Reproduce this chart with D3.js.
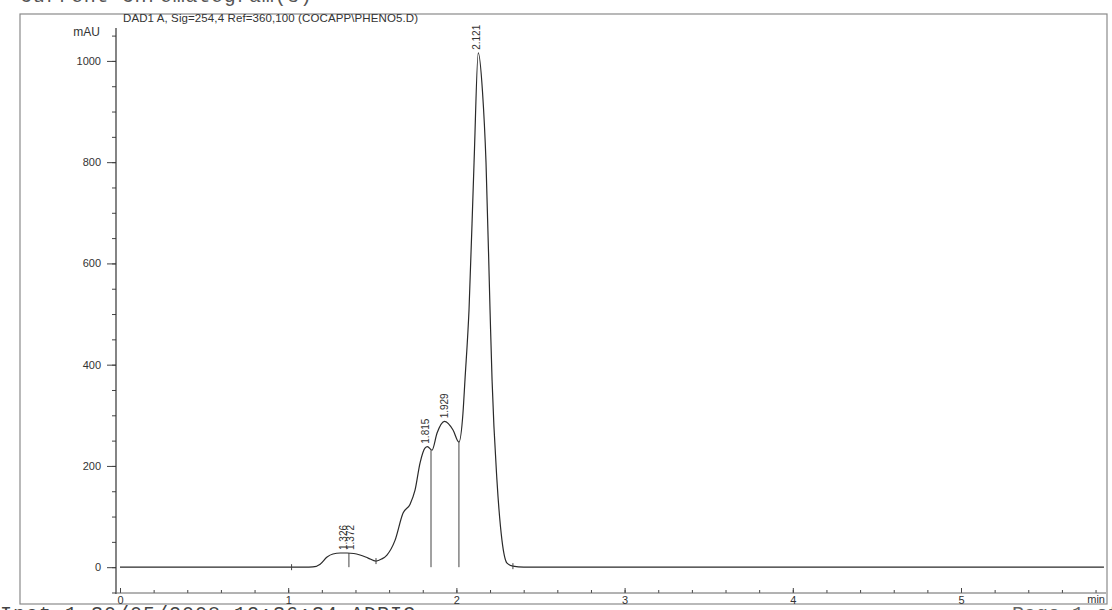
<!DOCTYPE html>
<html>
<head>
<meta charset="utf-8">
<script src="https://cdn.jsdelivr.net/npm/d3@7"></script>
<style>
  body { margin: 0; background: #fff; }
  svg { display: block; }
  .axis text { font-family: "Liberation Sans", Arial, sans-serif; font-size: 11px; fill: #333; }
  .axis path, .axis line { stroke: #444; }
</style>
</head>
<body>
<svg id="chart" width="1112" height="610"></svg>
<script>
// signal (min / mAU)
var times = [0, 1.02, 1.10, 1.147, 1.19, 1.231, 1.266, 1.31, 1.35, 1.39, 1.427, 1.475, 1.522, 1.555,
             1.587, 1.635, 1.683, 1.724, 1.754, 1.784, 1.813, 1.828, 1.855, 1.885, 1.929, 1.98, 2.015,
             2.039, 2.051, 2.075, 2.105, 2.13, 2.155, 2.176, 2.2, 2.212, 2.241, 2.271, 2.301, 2.336, 2.4, 5.85];
var mau = [0, 0, 0, 0.5, 6, 20, 26, 28, 28, 27, 24, 18, 12, 16,
           24, 53, 107, 124, 152, 206, 235, 238, 231, 265, 288, 271, 247,
           304, 370, 508, 800, 1016, 940, 800, 508, 370, 172, 53, 8, 2, 0, 0];

// integration marks
var peakTimes = [1.326, 1.372, 1.815, 1.929, 2.121];
var peakLabels = ["1.326", "1.372", "1.815", "1.929", "2.121"];
var peakHeights = [28, 28, 238, 288, 1016];
var dropTimes = [1.361, 1.849, 2.015];
var dropHeights = [28, 231, 247];
var boundTimes = [1.02, 1.522, 2.336];
var boundHeights = [0, 12, 2];

var xTicks = [0, 1, 2, 3, 4, 5];
var yTicks = [0, 200, 400, 600, 800, 1000];

var svg = d3.select('#chart');

var x = d3.scaleLinear().domain([0, 5.85]).range([120, 120 + 5.85 * 168.2]);
var y = d3.scaleLinear().domain([-51, 1065]).range([593, 28]);

// page frame
svg.append('rect').attr('x', 20).attr('y', 14).attr('width', 1087).attr('height', 590)
    .attr('fill', 'none').attr('stroke', '#8a8a8a').attr('stroke-width', 1.2);

// header / footer text of the printout (cut at the page edge, as on the scan)
svg.append('text').attr('x', 20).attr('y', 2)
    .attr('font-family', '"Liberation Mono", "Courier New", monospace').attr('font-size', 20)
    .attr('fill', '#555').attr('textLength', 292).text('Current Chromatogram(s)');
svg.append('text').attr('x', 0).attr('y', 620)
    .attr('font-family', '"Liberation Mono", "Courier New", monospace').attr('font-size', 20)
    .attr('fill', '#444').attr('textLength', 415).text('Inst 1  30/05/2008  12:36:34  ADRIC');
svg.append('text').attr('x', 1012).attr('y', 620)
    .attr('font-family', '"Liberation Mono", "Courier New", monospace').attr('font-size', 20)
    .attr('fill', '#666').text('Page 1 of 1');

svg.append('text').attr('x', 123).attr('y', 22)
    .attr('font-family', '"Liberation Sans", Arial, sans-serif').attr('font-size', 11.5)
    .attr('fill', '#333').attr('textLength', 295)
    .text('DAD1 A, Sig=254,4 Ref=360,100 (COCAPP\\PHENO5.D)');

svg.append('text').attr('x', 100).attr('y', 36).attr('text-anchor', 'end')
    .attr('font-family', '"Liberation Sans", Arial, sans-serif').attr('font-size', 12)
    .attr('fill', '#333').text('mAU');

// y axis
var yMinor = svg.append('g').attr('class', 'axis').attr('transform', 'translate(116,0)')
    .call(d3.axisLeft(y).tickValues(d3.range(-50, 1051, 50)).tickSize(4).tickFormat(''));
yMinor.select('.domain').remove();
var yAxis = svg.append('g').attr('class', 'axis').attr('transform', 'translate(116,0)')
    .call(d3.axisLeft(y).tickValues(yTicks).tickSize(9).tickPadding(6).tickFormat(d3.format('d')));
yAxis.select('.domain').remove();
svg.append('line').attr('x1', 116).attr('x2', 116).attr('y1', 28).attr('y2', 594)
    .attr('stroke', '#333').attr('stroke-width', 1.2);

// x axis
var xMinor = svg.append('g').attr('class', 'axis').attr('transform', 'translate(0,593)')
    .call(d3.axisBottom(x).tickValues(d3.range(0, 5.81, 0.2)).tickSize(-3).tickFormat(''));
xMinor.select('.domain').remove();
var xAxis = svg.append('g').attr('class', 'axis').attr('transform', 'translate(0,593)')
    .call(d3.axisBottom(x).tickValues(xTicks).tickSize(-5).tickPadding(3).tickFormat(d3.format('d')));
xAxis.select('.domain').remove();
xAxis.selectAll('text').attr('font-size', 10);
svg.append('line').attr('x1', 116).attr('x2', 1106).attr('y1', 593).attr('y2', 593)
    .attr('stroke', '#666').attr('stroke-width', 1);
svg.append('text').attr('x', 1105).attr('y', 603).attr('text-anchor', 'end')
    .attr('font-family', '"Liberation Sans", Arial, sans-serif').attr('font-size', 11)
    .attr('fill', '#333').text('min');

// signal trace
var points = times.map(function(t, i) { return [t, mau[i]]; });
var line = d3.line()
    .x(function(d) { return x(d[0]); })
    .y(function(d) { return y(d[1]); })
    .curve(d3.curveMonotoneX);
svg.append('path').datum(points).attr('d', line)
    .attr('fill', 'none').attr('stroke', '#2a2a2a').attr('stroke-width', 1.2);

// drop lines between co-eluting peaks
svg.selectAll('.drop').data(dropTimes).enter().append('line')
    .attr('class', 'drop')
    .attr('x1', function(d) { return x(d); }).attr('x2', function(d) { return x(d); })
    .attr('y1', y(0)).attr('y2', function(d, i) { return y(dropHeights[i]); })
    .attr('stroke', '#444').attr('stroke-width', 1);

// peak start/end ticks
svg.selectAll('.bound').data(boundTimes).enter().append('line')
    .attr('class', 'bound')
    .attr('x1', function(d) { return x(d); }).attr('x2', function(d) { return x(d); })
    .attr('y1', function(d, i) { return y(boundHeights[i]) + 3; })
    .attr('y2', function(d, i) { return y(boundHeights[i]) - 3; })
    .attr('stroke', '#444').attr('stroke-width', 1);

// retention time labels
svg.selectAll('.rt').data(peakTimes).enter().append('text')
    .attr('class', 'rt')
    .attr('transform', function(d, i) {
        return 'translate(' + (x(d) + 3.5) + ',' + (y(peakHeights[i]) - 3) + ') rotate(-90)';
    })
    .attr('font-family', '"Liberation Sans Narrow", "Arial Narrow", "Liberation Sans", sans-serif')
    .attr('font-size', 10).attr('fill', '#333')
    .text(function(d, i) { return peakLabels[i]; });
</script>
</body>
</html>
